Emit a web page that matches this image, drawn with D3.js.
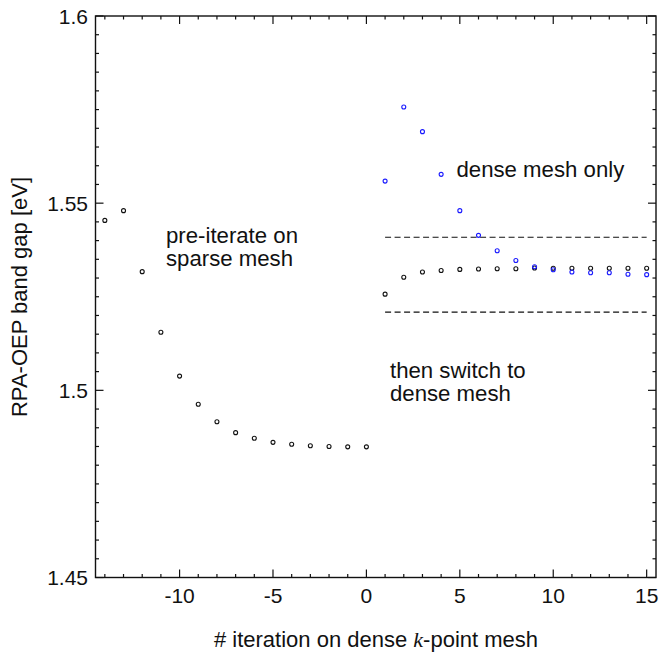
<!DOCTYPE html>
<html>
<head>
<meta charset="utf-8">
<script src="https://cdn.jsdelivr.net/npm/d3@7"></script>
<style>
body { margin: 0; background: #fff; }
text { font-family: "Liberation Sans", Arial, sans-serif; fill: #111; }
</style>
</head>
<body>
<svg id="chart" width="670" height="652"></svg>
<script>
// sparse mesh pre-iterations (x = -14 .. 0)
var sparseIter = [-14,-13,-12,-11,-10,-9,-8,-7,-6,-5,-4,-3,-2,-1,0];
var sparseGap = [1.5454,1.5480,1.5317,1.5155,1.5038,1.4963,1.4916,1.4887,1.4872,1.4861,1.4856,1.4852,1.4850,1.4849,1.4849];

// after switching to dense mesh (x = 1 .. 15)
var denseIter = [1,2,3,4,5,6,7,8,9,10,11,12,13,14,15];
var switchGap = [1.5257,1.5302,1.5316,1.5320,1.5323,1.5324,1.5325,1.5325,1.5327,1.5326,1.5326,1.5326,1.5326,1.5326,1.5326];
var denseOnlyGap = [1.5559,1.5757,1.5691,1.5577,1.5480,1.5414,1.5373,1.5347,1.5330,1.5322,1.5316,1.5314,1.5314,1.5310,1.5309];

// +/- 0.01 band around the converged value
var bandLevels = [1.5409, 1.5209];
var bandRange = [1, 15];

var xTicks = [-10, -5, 0, 5, 10, 15];
var yTicks = [1.45, 1.5, 1.55, 1.6];
var yTickLabels = ["1.45", "1.5", "1.55", "1.6"];

var pLeft = 95.5, pRight = 656, pTop = 16, pBottom = 577.5;

var svg = d3.select("#chart");

var x = d3.scaleLinear().domain([-14.5, 15.5]).range([pLeft, pRight]);
var y = d3.scaleLinear().domain([1.45, 1.6]).range([pBottom, pTop]);

var minorX = d3.range(-14, 16, 1);
var minorY = d3.range(0, 31).map(function(i){ return 1.45 + i * 0.005; });

// ticks pointing inward, on all four sides
function drawTicks(){
  var g = svg.append("g").attr("stroke", "#111").attr("stroke-width", 1.2);
  minorX.forEach(function(v){
    var len = (v % 5 == 0) ? 8 : 3.5;
    g.append("line").attr("x1", x(v)).attr("x2", x(v)).attr("y1", pBottom).attr("y2", pBottom - len);
    g.append("line").attr("x1", x(v)).attr("x2", x(v)).attr("y1", pTop).attr("y2", pTop + len);
  });
  minorY.forEach(function(v, i){
    var len = (i % 10 == 0) ? 8 : 3.5;
    g.append("line").attr("x1", pLeft).attr("x2", pLeft + len).attr("y1", y(v)).attr("y2", y(v));
    g.append("line").attr("x1", pRight).attr("x2", pRight - len).attr("y1", y(v)).attr("y2", y(v));
  });
}
drawTicks();

svg.append("rect")
  .attr("x", pLeft).attr("y", pTop)
  .attr("width", pRight - pLeft).attr("height", pBottom - pTop)
  .attr("fill", "none").attr("stroke", "#111").attr("stroke-width", 1.4);

// tick labels
svg.selectAll(".xl").data(xTicks).enter().append("text")
  .attr("x", function(d){ return x(d); })
  .attr("y", 603)
  .attr("text-anchor", "middle")
  .attr("font-size", 21)
  .text(function(d){ return d; });

svg.selectAll(".yl").data(yTicks).enter().append("text")
  .attr("x", 88)
  .attr("y", function(d){ return y(d) + 7.5; })
  .attr("text-anchor", "end")
  .attr("font-size", 21)
  .text(function(d, i){ return yTickLabels[i]; });

// axis titles
var xt = svg.append("text")
  .attr("x", 376).attr("y", 647)
  .attr("text-anchor", "middle")
  .attr("font-size", 22);
xt.append("tspan").text("# iteration on dense ");
xt.append("tspan").attr("font-family", "Liberation Serif, serif").attr("font-style", "italic").text("k");
xt.append("tspan").text("-point mesh");

svg.append("text")
  .attr("transform", "translate(27,297) rotate(-90)")
  .attr("text-anchor", "middle")
  .attr("font-size", 22)
  .text("RPA-OEP band gap [eV]");

// dashed band
svg.selectAll(".band").data(bandLevels).enter().append("line")
  .attr("x1", x(bandRange[0])).attr("x2", x(bandRange[1]))
  .attr("y1", function(d){ return y(d); }).attr("y2", function(d){ return y(d); })
  .attr("stroke", "#111").attr("stroke-width", 1.2)
  .attr("stroke-dasharray", "6,3.5");

function drawPoints(xs, ys, color){
  svg.append("g").selectAll("circle").data(xs).enter().append("circle")
    .attr("cx", function(d){ return x(d); })
    .attr("cy", function(d, i){ return y(ys[i]); })
    .attr("r", 2)
    .attr("fill", "none")
    .attr("stroke", color)
    .attr("stroke-width", 1.1);
}
drawPoints(sparseIter, sparseGap, "#111");
drawPoints(denseIter, switchGap, "#111");
drawPoints(denseIter, denseOnlyGap, "#1a1aff");

// annotations
function label(lines, px, py){
  var t = svg.append("text").attr("font-size", 22.2);
  lines.forEach(function(s, i){
    t.append("tspan").attr("x", px).attr("y", py + i * 23).text(s);
  });
}
label(["pre-iterate on", "sparse mesh"], 166, 243);
label(["dense mesh only"], 456.5, 177);
label(["then switch to", "dense mesh"], 390, 378);
</script>
</body>
</html>
